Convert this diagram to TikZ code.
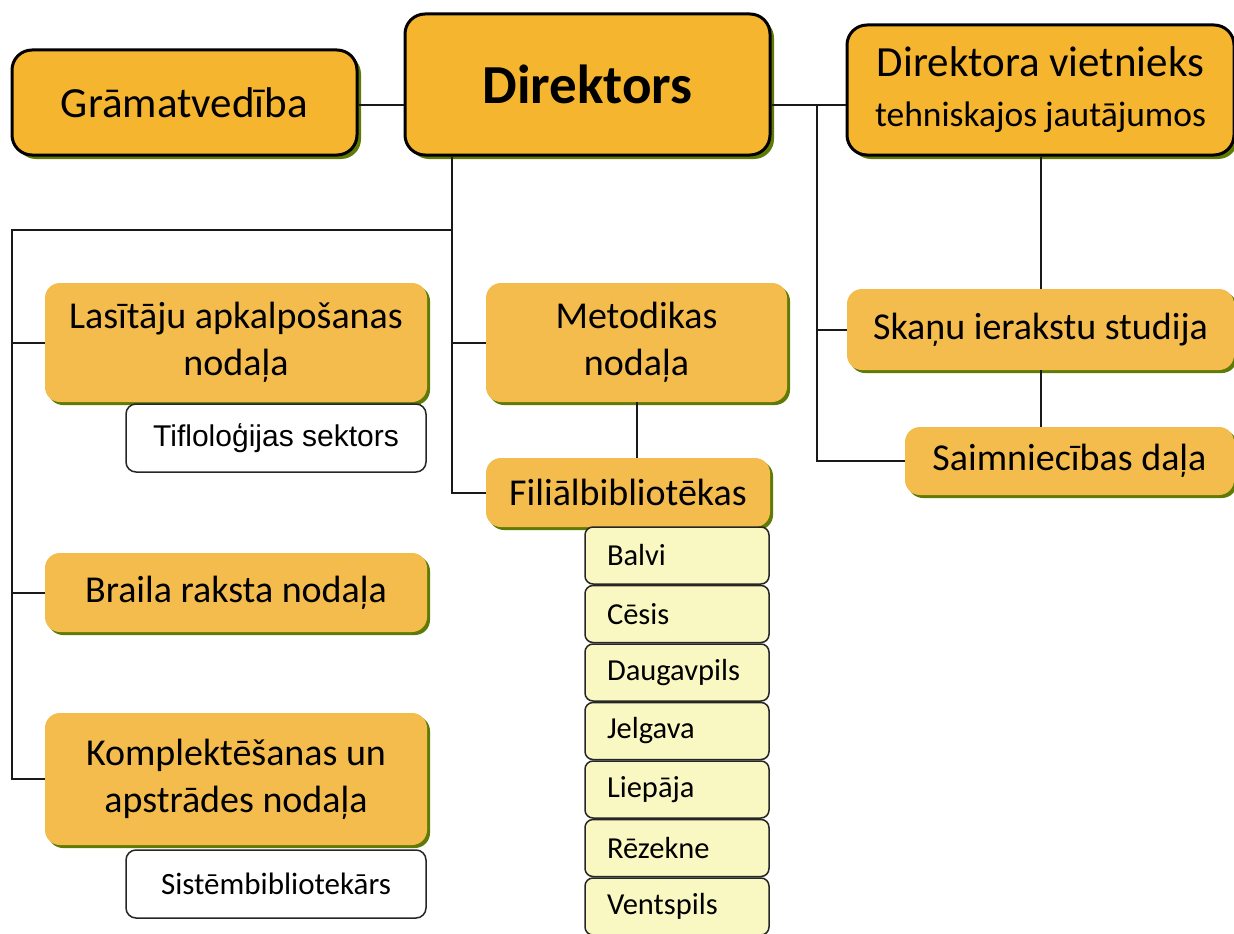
\documentclass[tikz,border=0pt]{standalone}
\usepackage{fontspec}
\setmainfont{Carlito}
\newfontfamily\arialfont{Liberation Sans}
\usetikzlibrary{shadows}
\definecolor{headfill}{HTML}{F5B52E}
\definecolor{deptfill}{HTML}{F4BC4C}
\definecolor{shadegreen}{HTML}{5F7A05}
\definecolor{cityfill}{HTML}{FAF8C2}

\begin{document}
\begin{tikzpicture}[x=1pt,y=-1pt,
	headbox/.style={draw=black,line width=3pt,fill=headfill,rounded corners=20pt,
		general shadow={fill=shadegreen,shadow xshift=4pt,shadow yshift=-4pt},
		align=center,inner sep=0pt},
	deptbox/.style={fill=deptfill,rounded corners=15pt,
		general shadow={fill=shadegreen,shadow xshift=3pt,shadow yshift=-3pt},
		align=center,inner sep=0pt,font=\fontsize{38}{47}\selectfont},
	subbox/.style={draw=black!85,line width=1.5pt,fill=white,rounded corners=10pt,
		inner sep=0pt,minimum width=300pt,minimum height=68pt},
	citybox/.style={draw=black!85,line width=1.5pt,fill=cityfill,rounded corners=8pt,
		minimum width=184pt,minimum height=57pt,inner sep=0pt,
		text width=140pt,align=left,font=\fontsize{30.5}{34}\selectfont}]
	\useasboundingbox (0,0) rectangle (1234,934);

	\node[headbox,minimum width=345pt,minimum height=105pt,font=\fontsize{43}{50}\selectfont] (gram) at (184.5,102.5) {Grāmatvedība};
	\node[headbox,minimum width=365pt,minimum height=141pt,font=\fontsize{55}{60}\selectfont\bfseries] (dir) at (587.5,84.5) {Direktors};
	\node[headbox,minimum width=387pt,minimum height=130pt,font=\fontsize{43}{47}\selectfont] (viet) at (1040.5,90)
		{Direktora vietnieks\\[3pt]{\fontsize{35.5}{40}\selectfont tehniskajos jautājumos}};

	\node[deptbox,minimum width=382pt,minimum height=119pt] (lasit) at (236,342.5) {Lasītāju apkalpošanas\\nodaļa};
	\node[subbox,font=\arialfont\fontsize{30}{34}\selectfont] (tiflo) at (276,438) {Tifloloģijas sektors};
	\node[deptbox,minimum width=382pt,minimum height=79pt] (braila) at (236,592.5) {Braila raksta nodaļa};
	\node[deptbox,minimum width=382pt,minimum height=132pt] (kompl) at (236,779) {Komplektēšanas un\\apstrādes nodaļa};
	\node[subbox,font=\fontsize{31}{34}\selectfont] (sistem) at (276,884) {Sistēmbibliotekārs};

	\node[deptbox,minimum width=301pt,minimum height=119pt] (metod) at (636.5,342.5) {Metodikas\\nodaļa};
	\node[deptbox,minimum width=284pt,minimum height=69pt] (filial) at (628,492.5) {Filiālbibliotēkas};
	\node[citybox] (c1) at (677,555.5) {Balvi};
	\node[citybox] (c2) at (677,614) {Cēsis};
	\node[citybox] (c3) at (677,672.5) {Daugavpils};
	\node[citybox] (c4) at (677,731) {Jelgava};
	\node[citybox] (c5) at (677,789.5) {Liepāja};
	\node[citybox] (c6) at (677,848) {Rēzekne};
	\node[citybox] (c7) at (677,906.5) {Ventspils};

	\node[deptbox,minimum width=387pt,minimum height=81pt] (skanu) at (1040.5,329.5) {Skaņu ierakstu studija};
	\node[deptbox,minimum width=329pt,minimum height=68pt] (saimn) at (1069.5,461) {Saimniecības daļa};

	\coordinate (lt) at (12,230);
	\coordinate (mt) at (452,230);
	\coordinate (rt) at (817,105);

	\begin{scope}[every path/.style={draw=black!90,line width=2pt}]
		\draw (gram.east |- rt) -- (dir.west |- rt);
		\draw (dir.east |- rt) -- (viet.west |- rt);
		\draw (rt) -- (rt |- saimn.west) -- (saimn.west);
		\draw (rt |- skanu.west) -- (skanu.west);
		\draw (viet.south -| skanu.south) -- (skanu.north);
		\draw (skanu.south) -- (skanu.south |- saimn.north);
		\draw (dir.south -| mt) -- (mt |- filial.west) -- (filial.west);
		\draw (mt |- metod.west) -- (metod.west);
		\draw (metod.south) -- (metod.south |- filial.north);
		\draw (mt) -- (lt) -- (lt |- kompl.west) -- (kompl.west);
		\draw (lt |- lasit.west) -- (lasit.west);
		\draw (lt |- braila.west) -- (braila.west);
	\end{scope}
\end{tikzpicture}
\end{document}
